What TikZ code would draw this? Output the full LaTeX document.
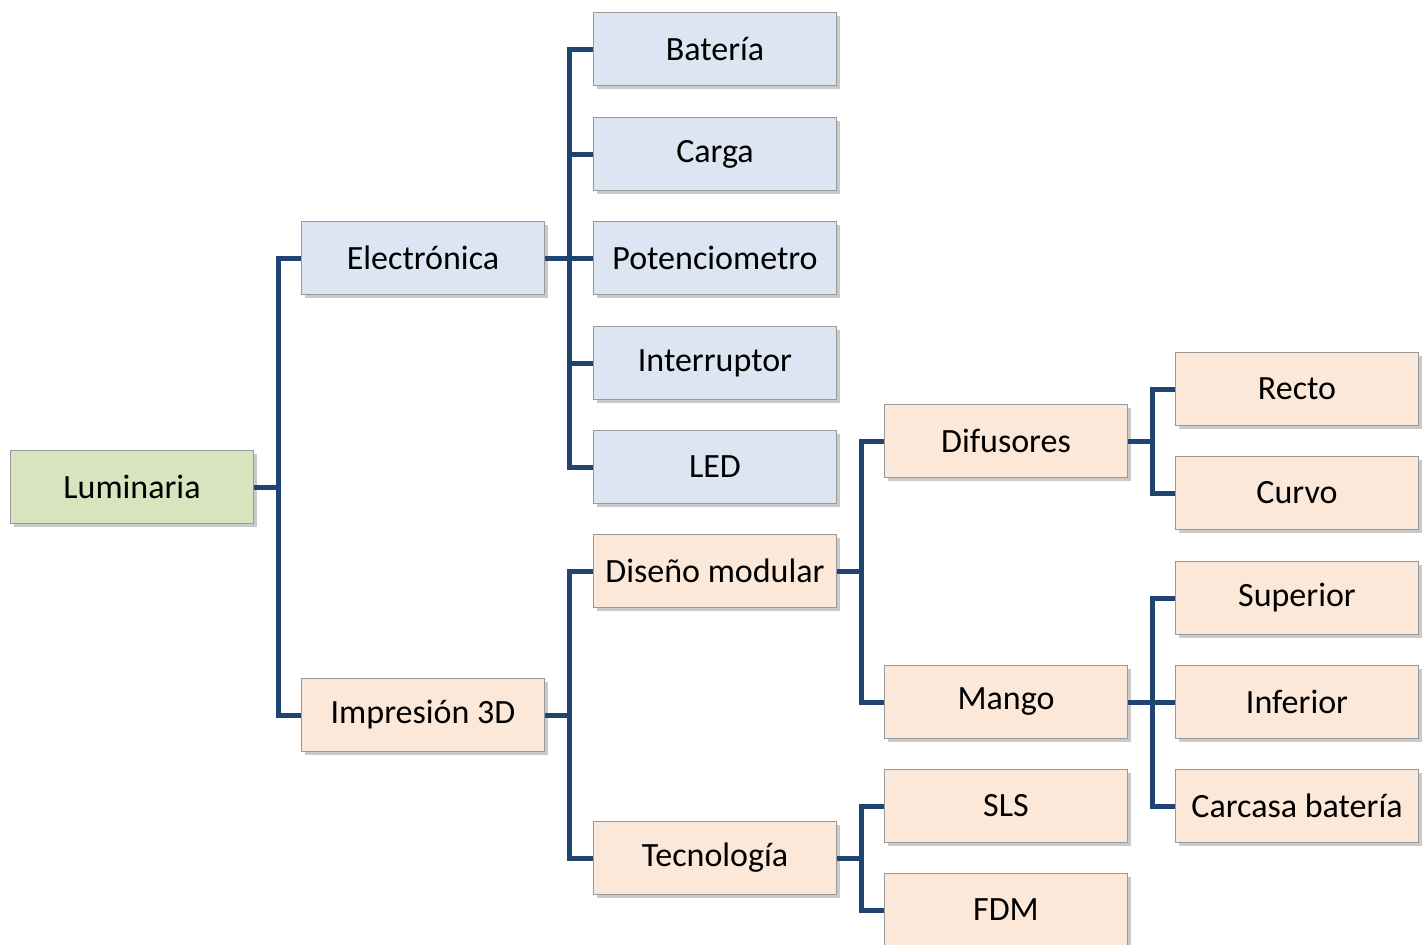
\documentclass[tikz,border=0pt]{standalone}
\usepackage{fontspec}
\setmainfont{Carlito}
\usetikzlibrary{shadows}
\definecolor{linkblue}{HTML}{1F4470}
\definecolor{greenfill}{HTML}{D7E4BD}
\definecolor{bluefill}{HTML}{DCE6F2}
\definecolor{orangefill}{HTML}{FBE8D8}
\tikzset{
  box/.style={draw=gray!80, line width=0.5pt, minimum width=121.5pt, minimum height=36.5pt,
    inner sep=0pt, font=\fontsize{17}{20}\selectfont,
    drop shadow={shadow xshift=1.5pt, shadow yshift=-1.5pt, opacity=0.35, fill=black!60}},
  rootbox/.style={box, fill=greenfill},
  elecbox/.style={box, fill=bluefill},
  printbox/.style={box, fill=orangefill},
  link/.style={draw=linkblue, line width=2.5pt, line join=miter}
}
\begin{document}
\begin{tikzpicture}[x=0.5pt,y=-0.5pt]
\useasboundingbox (0,0) rectangle (1426,944);
% raiz
\node[rootbox] (lum) at (132,487) {Luminaria};
% segundo nivel
\node[elecbox] (elec) at (423,258) {Electrónica};
\node[printbox] (imp) at (423,715) {Impresión 3D};
% electronica
\node[elecbox] (bat) at (715,49) {Batería};
\node[elecbox] (car) at (715,154) {Carga};
\node[elecbox] (pot) at (715,258) {Potenciometro};
\node[elecbox] (int) at (715,363) {Interruptor};
\node[elecbox] (led) at (715,467) {LED};
% impresion 3D
\node[printbox] (dis) at (715,571) {Diseño modular};
\node[printbox] (tec) at (715,858) {Tecnología};
\node[printbox] (dif) at (1006,441) {Difusores};
\node[printbox] (man) at (1006,702) {Mango};
\node[printbox] (sls) at (1006,806) {SLS};
\node[printbox] (fdm) at (1006,910) {FDM};
\node[printbox] (rec) at (1297,389) {Recto};
\node[printbox] (cur) at (1297,493) {Curvo};
\node[printbox] (sup) at (1297,598) {Superior};
\node[printbox] (inf) at (1297,702) {Inferior};
\node[printbox] (cb) at (1297,806) {Carcasa batería};
% conectores
\foreach \c in {elec,imp}
  \draw[link] (lum.east) -- ++(24,0) |- (\c.west);
\foreach \c in {bat,car,pot,int,led}
  \draw[link] (elec.east) -- ++(24,0) |- (\c.west);
\foreach \c in {dis,tec}
  \draw[link] (imp.east) -- ++(24,0) |- (\c.west);
\foreach \c in {dif,man}
  \draw[link] (dis.east) -- ++(24,0) |- (\c.west);
\foreach \c in {sls,fdm}
  \draw[link] (tec.east) -- ++(24,0) |- (\c.west);
\foreach \c in {rec,cur}
  \draw[link] (dif.east) -- ++(24,0) |- (\c.west);
\foreach \c in {sup,inf,cb}
  \draw[link] (man.east) -- ++(24,0) |- (\c.west);
\end{tikzpicture}
\end{document}
